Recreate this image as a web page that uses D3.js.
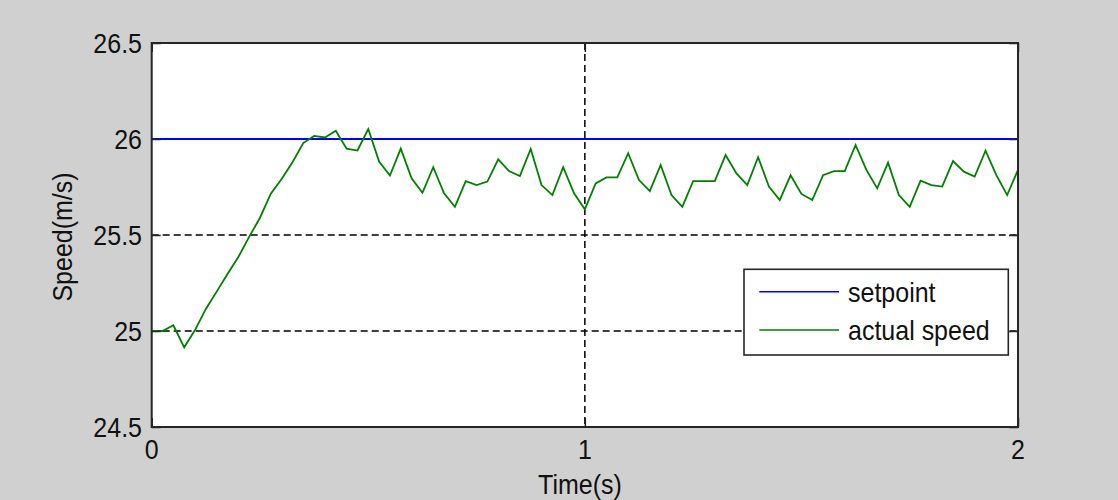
<!DOCTYPE html>
<html>
<head>
<meta charset="utf-8">
<script src="https://cdn.jsdelivr.net/npm/d3@7"></script>
<style>
  html, body { margin: 0; padding: 0; background: #d0d0d0; }
  svg { display: block; }
  text { font-family: "Liberation Sans", Arial, Helvetica, sans-serif; fill: #111; }
</style>
</head>
<body>
<svg id="chart" width="1118" height="500"></svg>
<script>
// Sampled speed response, one sample every 0.025 s over 2 s
const sampleStep = 0.025;
const actualSpeed = [
  25.00, 25.00, 25.03, 24.915, 25.005, 25.115, 25.205, 25.297, 25.385, 25.49,
  25.59, 25.715, 25.792, 25.879, 25.979, 26.016, 26.008, 26.043, 25.95, 25.94,
  26.052, 25.882, 25.81, 25.95, 25.795, 25.72, 25.853, 25.717, 25.647, 25.781,
  25.76, 25.778, 25.894, 25.833, 25.807, 25.948, 25.76, 25.708, 25.853, 25.717,
  25.634, 25.769, 25.80, 25.80, 25.926, 25.786, 25.729, 25.865, 25.708, 25.647,
  25.781, 25.781, 25.781, 25.917, 25.821, 25.76, 25.905, 25.752, 25.682, 25.811,
  25.714, 25.682, 25.812, 25.833, 25.833, 25.969, 25.839, 25.743, 25.877, 25.708,
  25.647, 25.783, 25.76, 25.752, 25.885, 25.83, 25.804, 25.939, 25.812, 25.708,
  25.839
];
const setpointValue = 26;
const timeSamples = actualSpeed.map((_, i) => i * sampleStep);
const setpoint = timeSamples.map(() => setpointValue);

const xTicks = [0, 1, 2];
const yTicks = [24.5, 25, 25.5, 26, 26.5];
const xGrid = [1];
const yGrid = [25, 25.5, 26];
const seriesNames = ["setpoint", "actual speed"];
const seriesColors = ["#0000ff", "#008000"];

const svg = d3.select("#chart");
const plotL = 151.7, plotR = 1018, plotT = 43, plotB = 427;

const x = d3.scaleLinear().domain([0, 2]).range([plotL, plotR]);
const y = d3.scaleLinear().domain([24.5, 26.5]).range([plotB, plotT]);

// Text helper: slightly tall sans-serif glyphs
const FS = 25, STRETCH = 1.14;
function label(g, tx, ty, str, anchor, rot) {
  return g.append("text")
    .attr("transform", `translate(${tx},${ty})` + (rot ? ` rotate(${rot})` : "") + ` scale(1,${STRETCH})`)
    .attr("font-size", FS)
    .attr("text-anchor", anchor)
    .text(str);
}

// plot background
svg.append("rect")
  .attr("x", plotL).attr("y", plotT)
  .attr("width", plotR - plotL).attr("height", plotB - plotT)
  .attr("fill", "#ffffff");

// dashed grid
const grid = svg.append("g").attr("stroke", "#000").attr("stroke-width", 1.5)
  .attr("stroke-dasharray", "7,4");
grid.selectAll("line.gx").data(xGrid).join("line")
  .attr("x1", d => x(d)).attr("x2", d => x(d))
  .attr("y1", plotT).attr("y2", plotB);
grid.selectAll("line.gy").data(yGrid).join("line")
  .attr("x1", plotL).attr("x2", plotR)
  .attr("y1", d => y(d)).attr("y2", d => y(d));

// series
const line = d3.line().x((d, i) => x(timeSamples[i])).y(d => y(d));
svg.append("path").datum(setpoint)
  .attr("d", line).attr("fill", "none")
  .attr("stroke", seriesColors[0]).attr("stroke-width", 2);
svg.append("path").datum(actualSpeed)
  .attr("d", line).attr("fill", "none")
  .attr("stroke", seriesColors[1]).attr("stroke-width", 1.8)
  .attr("stroke-linejoin", "miter");

// axes with inward ticks
const tickLen = 9;
const axisStroke = "#262626";
const bottomAxis = d3.axisBottom(x).tickValues(xTicks).tickSize(-tickLen).tickFormat("");
const topAxis = d3.axisTop(x).tickValues(xTicks).tickSize(-tickLen).tickFormat("");
const leftAxis = d3.axisLeft(y).tickValues(yTicks).tickSize(-tickLen).tickFormat("");
const rightAxis = d3.axisRight(y).tickValues(yTicks).tickSize(-tickLen).tickFormat("");

function styleAxis(g) {
  g.selectAll("path.domain").remove();
  g.selectAll("line").attr("stroke", axisStroke).attr("stroke-width", 1.5);
}
svg.append("g").attr("transform", `translate(0,${plotB})`).call(bottomAxis).call(styleAxis);
svg.append("g").attr("transform", `translate(0,${plotT})`).call(topAxis).call(styleAxis);
svg.append("g").attr("transform", `translate(${plotL},0)`).call(leftAxis).call(styleAxis);
svg.append("g").attr("transform", `translate(${plotR},0)`).call(rightAxis).call(styleAxis);

// frame
svg.append("rect")
  .attr("x", plotL).attr("y", plotT)
  .attr("width", plotR - plotL).attr("height", plotB - plotT)
  .attr("fill", "none").attr("stroke", axisStroke).attr("stroke-width", 2);

// tick labels
const labels = svg.append("g");
xTicks.forEach(v => label(labels, x(v), 459, String(v), "middle"));
yTicks.forEach(v => label(labels, 142, y(v) + 10.2, String(v), "end"));

// axis titles
label(labels, 580, 494, "Time(s)", "middle");
label(labels, 72, 237, "Speed(m/s)", "middle", -90);

// legend
const lg = svg.append("g");
lg.append("rect")
  .attr("x", 744).attr("y", 269.3)
  .attr("width", 264.3).attr("height", 85.7)
  .attr("fill", "#ffffff").attr("stroke", axisStroke).attr("stroke-width", 1.6);
const legendRows = [291.7, 330];
seriesNames.forEach((name, i) => {
  lg.append("line")
    .attr("x1", 759.3).attr("x2", 839)
    .attr("y1", legendRows[i]).attr("y2", legendRows[i])
    .attr("stroke", seriesColors[i]).attr("stroke-width", 1.6);
  label(lg, 848, legendRows[i] + 10, name, "start");
});
</script>
</body>
</html>
